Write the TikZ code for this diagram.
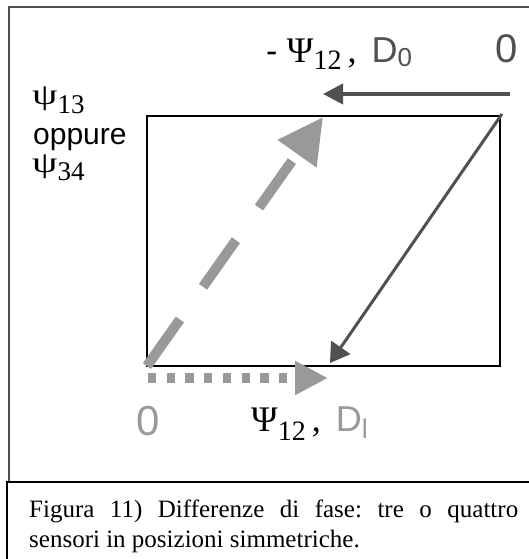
\documentclass[tikz,border=0pt]{standalone}
\usepackage{fontspec}
\setmainfont{Liberation Serif}
\setsansfont{Liberation Sans}
\usepackage{xcolor}
\usetikzlibrary{arrows.meta}
\definecolor{darkgr}{HTML}{505050}
\definecolor{lightgr}{HTML}{999999}
\newcommand{\fs}[1]{\fontsize{#1}{#1}\selectfont}
\newcommand{\widepsi}{\scalebox{1.45}[1.05]{\fs{28}ψ}}

\begin{document}
\begin{tikzpicture}[x=1pt, y=-1pt,
  lbl/.style={inner sep=0pt, anchor=base west},
  toparr/.style={darkgr, line width=4pt, -{Triangle[length=20pt, width=20pt]}},
  diagarr/.style={darkgr, line width=3pt, -{Triangle[length=19pt, width=23pt]}},
  dasharr/.style={lightgr, line width=10pt, dash pattern=on 57pt off 40pt, -{Triangle[length=45pt, width=45pt]}},
  dotarr/.style={lightgr, line width=10pt, dash pattern=on 8.3pt off 10.4pt, -{Triangle[length=33pt, width=32pt]}}
]
\useasboundingbox (0,0) rectangle (528,559);
% frames
\draw[darkgr, line width=2pt] (530,7) -| (9,482);
\draw[line width=1.5pt] (530,482) -| (7,561);

% box and arrow ends
\coordinate (bl) at (147,366);
\coordinate (tr) at (500,116);
\coordinate (topR) at (510,94);
\coordinate (topL) at (323,94);
\coordinate (diagS) at (502,114);
\coordinate (diagE) at (330,363);
\coordinate (dashE) at (323,117);
\coordinate (dotS) at (148,378);
\coordinate (dotE) at (328,378);
\draw[line width=1.3pt] (bl) rectangle (tr);

\draw[toparr] (topR) -- (topL);
\draw[diagarr] (diagS) -- (diagE);
\draw[dasharr] (bl) -- (dashE);
\draw[dotarr] (dotS) -- (dotE);

% labels
\node[lbl] (negpsi) at (266,63) {\sffamily\fs{34}- {\rmfamily\fs{36}Ψ\raisebox{-7pt}{\fs{28}12}\,,}\, \textcolor{darkgr}{\fs{36}D\raisebox{-4pt}{\fs{26}0}}};
\node[lbl, darkgr] (zeroR) at (495,63) {\sffamily\fs{40}0};
\node[lbl] (psiA) at (32,105) {\widepsi\raisebox{-9pt}{\fs{27}13}};
\node[lbl] (opp) at (33,144) {\sffamily\fs{30}oppure};
\node[lbl] (psiB) at (32,172) {\widepsi\raisebox{-8pt}{\fs{27}34}};
\node[lbl, lightgr] (zeroL) at (136,435) {\sffamily\fs{42}0};
\node[lbl] (psi) at (251,431) {\fs{36}Ψ\raisebox{-9pt}{\fs{28}12}\,,\, \textcolor{lightgr}{\sffamily\fs{36}D\raisebox{-7pt}{\fs{27}l}}};

\node[lbl, text width=489pt, align=justify, font=\fontsize{25}{30}\selectfont] (cap) at (29,517)
  {\frenchspacing Figura 11) Differenze di fase: tre o quattro\linebreak sensori in posizioni simmetriche.};
\end{tikzpicture}
\end{document}
